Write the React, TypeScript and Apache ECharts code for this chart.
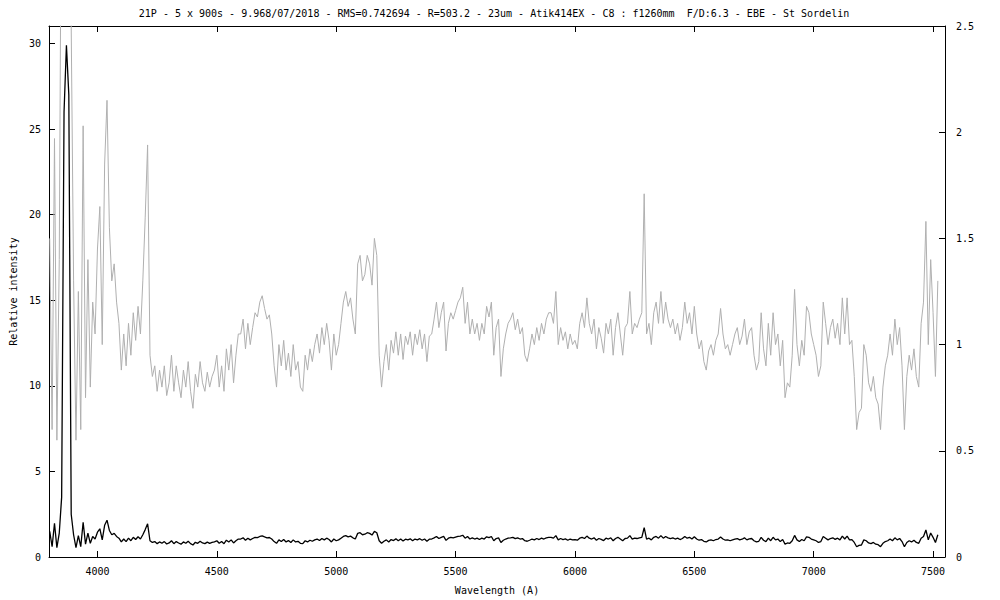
import React, { useEffect, useRef } from "react";
import * as echarts from "echarts";

const TITLE =
  "21P - 5 x 900s - 9.968/07/2018 - RMS=0.742694 - R=503.2 - 23um - Atik414EX - C8 : f1260mm\u00a0 F/D:6.3 - EBE - St Sordelin";
const X_NAME = "Wavelength (A)";
const Y_NAME = "Relative intensity";

const X_TICKS = [4000, 4500, 5000, 5500, 6000, 6500, 7000, 7500];
const Y_LEFT_TICKS = [0, 5, 10, 15, 20, 25, 30];
const Y_RIGHT_TICKS = [0, 0.5, 1, 1.5, 2, 2.5];

// spectrum sampled every 10 Å from 3800 Å
const WAVE_START = 3800;
const WAVE_STEP = 10;
const INTENSITY = [
  1.5, 0.6, 1.97, 0.55, 1.4, 3.5, 26, 29.9, 27, 2.5,
  1.3, 0.55, 1.25, 0.6, 2.03, 0.75, 1.4, 0.8, 1.2, 1.05,
  1.45, 1.65, 1.0, 1.85, 2.15, 1.55, 1.3, 1.38, 1.2, 1.1,
  0.88, 1.05, 0.9, 1.1, 0.95, 1.15, 1.02, 1.18, 1.05, 1.3,
  1.6, 1.94, 0.95, 0.85, 0.9, 0.78, 0.88, 0.8, 0.9, 0.76,
  0.82, 0.95, 0.78, 0.9, 0.82, 0.75, 0.88, 0.8, 0.92, 0.78,
  0.7, 0.86, 0.8, 0.92, 0.82, 0.78, 0.87, 0.8, 0.85, 0.88,
  0.95, 0.8, 0.9, 0.78, 0.98, 0.88, 1.0, 0.82, 0.95, 1.05,
  1.05, 1.12, 0.98, 1.1, 1.0, 1.08, 1.15, 1.13, 1.2, 1.23,
  1.17, 1.12, 1.14, 1.05, 0.9, 0.8, 1.0, 0.9, 1.02, 0.88,
  0.96, 0.85, 1.0, 0.88, 0.92, 0.8, 0.78, 0.95, 0.88, 0.98,
  0.92, 1.0, 1.05, 0.96, 1.08, 1.0, 1.1, 1.02, 0.88, 1.05,
  0.95, 1.0, 1.1, 1.2, 1.25, 1.18, 1.22, 1.12, 1.05, 1.38,
  1.42, 1.3, 1.33, 1.42, 1.38, 1.28, 1.5, 1.42, 0.95, 0.8,
  0.92, 1.0, 0.88, 1.02, 0.96, 1.06, 0.95, 1.05, 0.93, 1.04,
  1.0, 1.06, 0.95, 1.05, 1.0, 1.07, 0.98, 1.05, 0.92, 1.04,
  1.05, 1.12, 1.2, 1.08, 1.15, 1.2, 0.97, 1.1, 1.15, 1.12,
  1.16, 1.2, 1.22, 1.27, 1.1, 1.2, 1.05, 1.12, 1.05, 1.1,
  1.02, 1.1, 1.05, 1.18, 1.13, 1.2, 0.95, 1.08, 1.12, 0.85,
  0.98, 1.05, 1.1, 1.12, 1.15, 1.07, 1.12, 1.05, 1.08, 0.95,
  0.92, 0.98, 1.05, 1.0, 1.08, 1.02, 1.1, 1.05, 1.12, 1.15,
  1.15, 1.1, 1.25, 1.0, 1.08, 1.02, 1.06, 0.98, 1.05, 1.0,
  1.02, 0.98, 1.1, 1.15, 1.08, 1.22, 1.1, 1.05, 1.12, 0.98,
  1.08, 1.03, 0.96, 1.1, 1.05, 1.12, 0.95, 1.08, 1.15, 1.05,
  0.95, 1.08, 1.1, 1.25, 1.05, 1.1, 1.08, 1.12, 1.15, 1.71,
  1.05, 1.1, 1.0, 1.15, 1.2, 1.1, 1.25, 1.1, 1.2, 1.12,
  1.08, 1.12, 1.05, 1.1, 1.02, 1.08, 1.2, 1.1, 1.15, 1.05,
  1.18, 1.05, 0.98, 1.02, 0.92, 0.88, 0.97, 1.0, 0.95, 1.02,
  1.05, 1.17, 1.05, 0.98, 1.0, 0.95, 1.0, 1.05, 1.08, 1.0,
  1.04, 1.12, 1.0, 1.06, 1.08, 0.95, 0.88, 0.92, 1.15, 0.98,
  0.9, 1.1, 0.95, 1.15, 1.0, 1.05, 0.9, 1.02, 0.75, 0.82,
  0.8, 0.95, 1.26, 1.0, 0.9, 1.02, 0.95, 1.18, 1.15, 1.05,
  1.0, 0.95, 0.85, 0.9, 1.2, 1.1, 1.0, 1.08, 1.12, 1.03,
  1.1, 1.0, 1.22, 1.05, 1.22, 1.0, 1.02, 0.85, 0.6, 0.68,
  0.7, 1.0, 0.95, 0.82, 0.78, 0.85, 0.75, 0.72, 0.6, 0.8,
  0.9, 0.95, 1.05, 0.95, 1.12, 1.0, 1.08, 0.9, 0.6, 0.85,
  0.95, 0.88, 0.98, 0.85, 0.8, 1.1, 1.2, 1.58, 1.0, 1.4,
  1.15, 0.85, 1.3,
];

const FONT = "DejaVu Sans Mono";

export default function App() {
  const ref = useRef<HTMLDivElement>(null);

  useEffect(() => {
    if (!ref.current) return;
    const chart = echarts.init(ref.current, undefined, { renderer: "svg" });
    const points = INTENSITY.map((v, i) => [WAVE_START + i * WAVE_STEP, v]);
    const txt = { fontFamily: FONT, fontSize: 10, color: "#000" };
    const axLine = { show: true, onZero: false, lineStyle: { color: "#000", width: 1 } };
    const tickStyle = { color: "#000", width: 1 };
    const plain = (v: number) => String(v);

    chart.setOption({
      animation: false,
      backgroundColor: "#fff",
      graphic: [
        {
          type: "text",
          x: 494,
          y: 13,
          style: {
            text: TITLE,
            fontFamily: FONT,
            fontSize: 10,
            fill: "#000",
            textAlign: "center",
            textVerticalAlign: "middle",
          },
        },
      ],
      grid: { left: 46, right: 55, top: 26, bottom: 42, containLabel: false },
      xAxis: [
        {
          type: "value",
          min: 3797,
          max: 7550,
          position: "bottom",
          name: X_NAME,
          nameLocation: "middle",
          nameGap: 28,
          nameTextStyle: txt,
          axisLine: axLine,
          axisTick: { show: true, inside: true, length: 6, customValues: X_TICKS, lineStyle: tickStyle },
          axisLabel: { customValues: X_TICKS, margin: 9, formatter: plain, ...txt },
          splitLine: { show: false },
        },
        {
          type: "value",
          min: 3797,
          max: 7550,
          position: "top",
          axisLine: axLine,
          axisTick: { show: true, inside: true, length: 6, customValues: X_TICKS, lineStyle: tickStyle },
          axisLabel: { show: false, customValues: X_TICKS },
          splitLine: { show: false },
        },
      ],
      yAxis: [
        {
          type: "value",
          min: 0,
          max: 31.02,
          position: "left",
          name: Y_NAME,
          nameLocation: "middle",
          nameGap: 31,
          nameRotate: 90,
          nameTextStyle: txt,
          axisLine: axLine,
          axisTick: { show: true, inside: true, length: 6, customValues: Y_LEFT_TICKS, lineStyle: tickStyle },
          axisLabel: { customValues: Y_LEFT_TICKS, margin: 8, formatter: plain, ...txt },
          splitLine: { show: false },
        },
        {
          type: "value",
          min: 0,
          max: 2.5,
          position: "right",
          axisLine: axLine,
          axisTick: { show: true, inside: true, length: 6, customValues: Y_RIGHT_TICKS, lineStyle: tickStyle },
          axisLabel: { customValues: Y_RIGHT_TICKS, margin: 11, formatter: plain, ...txt },
          splitLine: { show: false },
        },
      ],
      series: [
        {
          name: "zoomed",
          type: "line",
          xAxisIndex: 0,
          yAxisIndex: 1,
          data: points,
          showSymbol: false,
          symbol: "none",
          silent: true,
          clip: true,
          lineStyle: { color: "#b0b0b0", width: 1 },
        },
        {
          name: "spectrum",
          type: "line",
          xAxisIndex: 0,
          yAxisIndex: 0,
          data: points,
          showSymbol: false,
          symbol: "none",
          silent: true,
          clip: true,
          lineStyle: { color: "#000", width: 1.3 },
        },
      ],
    });
    return () => chart.dispose();
  }, []);

  return (
    <div
      ref={ref}
      style={{ position: "absolute", left: 0, top: 0, width: 1000, height: 600, background: "#fff" }}
    />
  );
}
